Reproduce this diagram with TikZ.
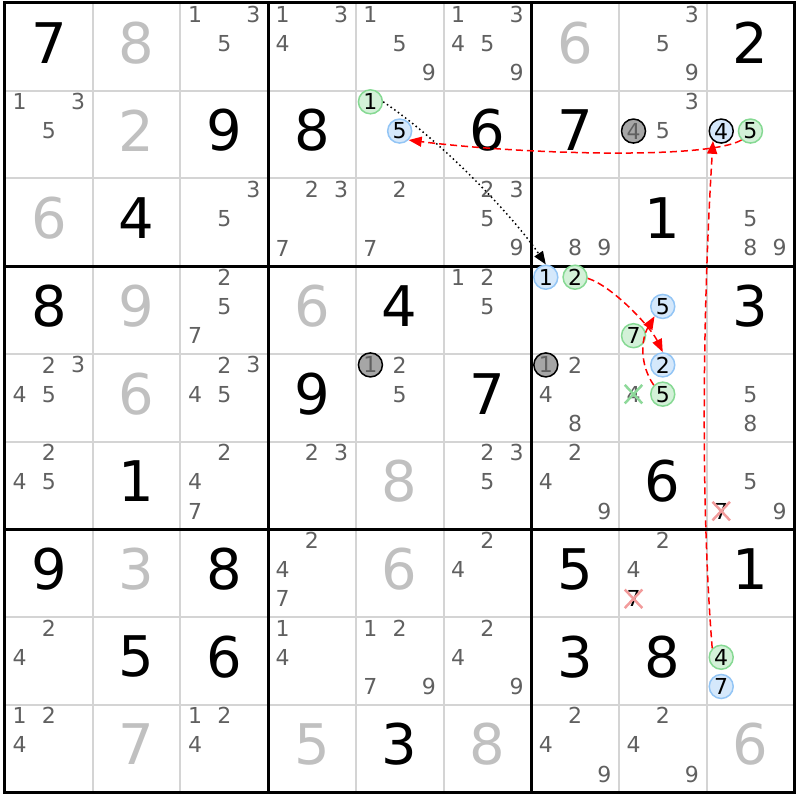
\documentclass[tikz,border=0pt]{standalone}
\usepackage{fontspec}
\setmainfont{DejaVu Sans}
\usetikzlibrary{arrows.meta,shapes.misc}
\definecolor{candgrey}{HTML}{606060}
\definecolor{solvedgrey}{HTML}{C0C0C0}
\definecolor{gridgrey}{HTML}{D4D4D4}
\definecolor{fillblue}{HTML}{D5E8FB}
\definecolor{ringblue}{HTML}{93C5F5}
\definecolor{fillgreen}{HTML}{D3F1D8}
\definecolor{ringgreen}{HTML}{86D993}
\definecolor{fillgrey}{HTML}{A6A6A6}
\definecolor{crossred}{HTML}{F29B9B}
\definecolor{crossgreen}{HTML}{8ED99A}

\begin{document}
\begin{tikzpicture}[x=87.7pt,y=87.7pt,>={Triangle[length=13pt,width=10pt]},
    given node/.style={font=\fontsize{56}{56}\selectfont,inner sep=0pt,yshift=4pt},
    solved node/.style={given node,text=solvedgrey},
    cand node/.style={font=\fontsize{22}{22}\selectfont,inner sep=0pt,yshift=3.5pt,text=candgrey},
    blue node/.style={cand node,circle,draw=ringblue,fill=fillblue,line width=1.5pt,minimum size=24pt,text=black},
    green node/.style={blue node,draw=ringgreen,fill=fillgreen},
    ring node/.style={blue node,draw=black},
    grey node/.style={cand node,circle,draw=black,fill=fillgrey,line width=1.5pt,minimum size=24pt},
    red cross/.style={cand node,cross out,draw=crossred,line width=2.5pt,minimum size=15pt,text=black},
    green cross/.style={cand node,cross out,draw=crossgreen,line width=2.5pt,minimum size=15pt},
    chain arrow/.style={->,draw=red,dash pattern=on 7pt off 4pt,line width=1.5pt},
    link arrow/.style={->,draw=black,dash pattern=on 1.5pt off 3pt,line width=1.5pt}]

    \useasboundingbox (-5pt,3pt) rectangle (795pt,-797pt);

    % grid
    \foreach \i in {1,2,4,5,7,8} {
        \draw[gridgrey,line width=2pt] (\i,0) -- (\i,-9);
        \draw[gridgrey,line width=2pt] (0,-\i) -- (9,-\i);
    }
    \foreach \i in {3,6} {
        \draw[line width=3pt] (\i,0) -- (\i,-9);
        \draw[line width=3pt] (0,-\i) -- (9,-\i);
    }
    \draw[line width=3pt] (0,0) rectangle (9,-9);

    % given and solved digits
    \foreach \r/\c/\d in {1/1/7,1/9/2,2/3/9,2/4/8,2/6/6,2/7/7,3/2/4,3/8/1,4/1/8,4/5/4,4/9/3,
        5/4/9,5/6/7,6/2/1,6/8/6,7/1/9,7/3/8,7/7/5,7/9/1,8/2/5,8/3/6,8/7/3,8/8/8,9/5/3}
        \node[given node] (\r\c) at (\c-0.5,0.5-\r) {\d};
    \foreach \r/\c/\d in {1/2/8,1/7/6,2/2/2,3/1/6,4/2/9,4/4/6,5/2/6,6/5/8,7/2/3,7/5/6,
        9/2/7,9/4/5,9/6/8,9/9/6}
        \node[solved node] (\r\c) at (\c-0.5,0.5-\r) {\d};

    % candidates
    \foreach \r/\c/\s/\d in {1/3/cand node/1,1/3/cand node/3,1/3/cand node/5,
        1/4/cand node/1,1/4/cand node/3,1/4/cand node/4,
        1/5/cand node/1,1/5/cand node/5,1/5/cand node/9,
        1/6/cand node/1,1/6/cand node/3,1/6/cand node/4,1/6/cand node/5,1/6/cand node/9,
        1/8/cand node/3,1/8/cand node/5,1/8/cand node/9,
        2/1/cand node/1,2/1/cand node/3,2/1/cand node/5,
        2/5/green node/1,2/5/blue node/5,
        2/8/cand node/3,2/8/grey node/4,2/8/cand node/5,
        2/9/ring node/4,2/9/green node/5,
        3/3/cand node/3,3/3/cand node/5,
        3/4/cand node/2,3/4/cand node/3,3/4/cand node/7,
        3/5/cand node/2,3/5/cand node/7,
        3/6/cand node/2,3/6/cand node/3,3/6/cand node/5,3/6/cand node/9,
        3/7/cand node/8,3/7/cand node/9,
        3/9/cand node/5,3/9/cand node/8,3/9/cand node/9,
        4/3/cand node/2,4/3/cand node/5,4/3/cand node/7,
        4/6/cand node/1,4/6/cand node/2,4/6/cand node/5,
        4/7/blue node/1,4/7/green node/2,
        4/8/blue node/5,4/8/green node/7,
        5/1/cand node/2,5/1/cand node/3,5/1/cand node/4,5/1/cand node/5,
        5/3/cand node/2,5/3/cand node/3,5/3/cand node/4,5/3/cand node/5,
        5/5/grey node/1,5/5/cand node/2,5/5/cand node/5,
        5/7/grey node/1,5/7/cand node/2,5/7/cand node/4,5/7/cand node/8,
        5/8/blue node/2,5/8/green cross/4,5/8/green node/5,
        5/9/cand node/5,5/9/cand node/8,
        6/1/cand node/2,6/1/cand node/4,6/1/cand node/5,
        6/3/cand node/2,6/3/cand node/4,6/3/cand node/7,
        6/4/cand node/2,6/4/cand node/3,
        6/6/cand node/2,6/6/cand node/3,6/6/cand node/5,
        6/7/cand node/2,6/7/cand node/4,6/7/cand node/9,
        6/9/cand node/5,6/9/red cross/7,6/9/cand node/9,
        7/4/cand node/2,7/4/cand node/4,7/4/cand node/7,
        7/6/cand node/2,7/6/cand node/4,
        7/8/cand node/2,7/8/cand node/4,7/8/red cross/7,
        8/1/cand node/2,8/1/cand node/4,
        8/4/cand node/1,8/4/cand node/4,
        8/5/cand node/1,8/5/cand node/2,8/5/cand node/7,8/5/cand node/9,
        8/6/cand node/2,8/6/cand node/4,8/6/cand node/9,
        8/9/green node/4,8/9/blue node/7,
        9/1/cand node/1,9/1/cand node/2,9/1/cand node/4,
        9/3/cand node/1,9/3/cand node/2,9/3/cand node/4,
        9/7/cand node/2,9/7/cand node/4,9/7/cand node/9,
        9/8/cand node/2,9/8/cand node/4,9/8/cand node/9}
        \node[\s] (\r\c\d) at ({\c-0.5+(mod(\d-1,3)-1)/3},{0.5-\r-(int((\d-1)/3)-1)/3}) {\d};

    % links
    \draw[link arrow] (251.east) .. controls +(60pt,-40pt) and +(-30pt,45pt) .. (471.north);
    \draw[chain arrow] (894.135) .. controls +(-12pt,149pt) and +(-10pt,-160pt) .. (294.-130);
    \draw[chain arrow] (295.-135) .. controls +(-35pt,-20pt) and +(110pt,-14pt) .. (255.-45);
    \draw[chain arrow] (472.-5) .. controls +(25pt,-8pt) and +(-12pt,25pt) .. (582.north);
    \draw[chain arrow] (585.135) .. controls +(-15pt,22pt) and +(-13pt,-22pt) .. (485.-130);
\end{tikzpicture}
\end{document}
